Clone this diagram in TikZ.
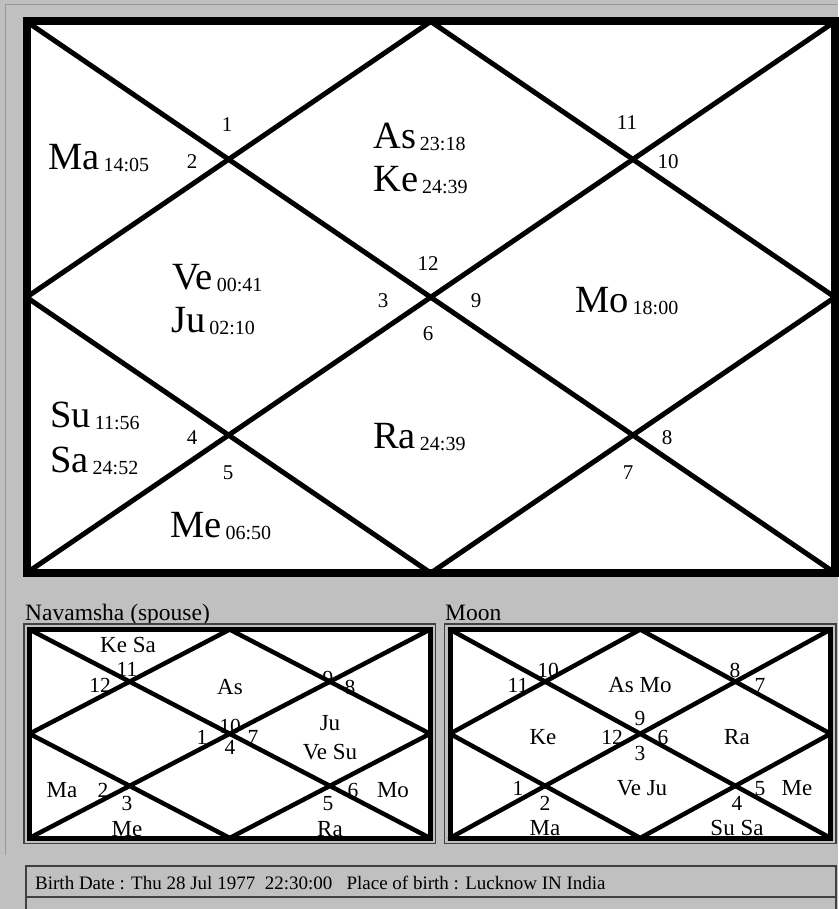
\documentclass[tikz,border=0pt]{standalone}
\usepackage{fontspec}
\setmainfont{Liberation Serif}
\definecolor{bgc}{HTML}{C0C0C0}
\definecolor{framec}{HTML}{404040}
\newcommand{\plsub}[2]{#1\hspace{4pt}\raisebox{-2pt}{\fontsize{20}{20}\selectfont #2}}
\begin{document}
\begin{tikzpicture}[x=1pt,y=-1pt,
  planet/.style={anchor=base west, inner sep=0pt, font=\fontsize{38.5}{38.5}\selectfont},
  hnum/.style={inner sep=0pt, text height=14pt, text depth=0pt, font=\fontsize{21}{21}\selectfont},
  stxt/.style={inner sep=0pt, text height=15pt, text depth=0pt, font=\fontsize{23}{23}\selectfont},
  snum/.style={inner sep=0pt, text height=14.5pt, text depth=0pt, font=\fontsize{21.5}{21.5}\selectfont},
  title/.style={anchor=base west, inner sep=0pt, font=\fontsize{23.5}{23.5}\selectfont},
  bigborder/.style={draw=black, line width=8pt},
  bigdiag/.style={draw=black, line width=5pt, line cap=round, line join=round},
  smallborder/.style={draw=black, line width=5pt},
  smalldiag/.style={draw=black, line width=4.5pt, line cap=round, line join=round},
  thinframe/.style={draw=framec, line width=1.2pt},
  tableline/.style={draw=framec, line width=2pt}]
\useasboundingbox (0,0) rectangle (838,909);
\fill[bgc] (0,0) rectangle (838,909);
\draw[draw=gray!80, line width=1pt] (5.5,855) -- (5.5,4.5) -- (838,4.5);

% ---------- main chart ----------
\fill[white] (26.5,21.5) rectangle (835,573);
\draw[bigdiag] (26.5,21.5) -- (835,573);
\draw[bigdiag] (835,21.5) -- (26.5,573);
\draw[bigdiag] (430.75,21.5) -- (835,297.25) -- (430.75,573) -- (26.5,297.25) -- cycle;
\draw[bigborder] (26.5,21.5) rectangle (835,573);

\node[planet] (ma) at (48,170) {\plsub{Ma}{14:05}};
\node[planet] (as) at (373,149) {\plsub{As}{23:18}};
\node[planet] (ke) at (373,192) {\plsub{Ke}{24:39}};
\node[planet] (ve) at (172,289) {\plsub{Ve}{00:41}};
\node[planet] (ju) at (171,332) {\plsub{Ju}{02:10}};
\node[planet] (mo) at (575,312) {\plsub{Mo}{18:00}};
\node[planet] (su) at (50,427) {\plsub{Su}{11:56}};
\node[planet] (sa) at (50,472) {\plsub{Sa}{24:52}};
\node[planet] (ra) at (373,448) {\plsub{Ra}{24:39}};
\node[planet] (me) at (170,537) {\plsub{Me}{06:50}};

\node[hnum] (h1) at (227,125) {1};
\node[hnum] (h2) at (192,162) {2};
\node[hnum] (h11) at (627,123) {11};
\node[hnum] (h10) at (668,162) {10};
\node[hnum] (h12) at (428,263) {12};
\node[hnum] (h3) at (383,300) {3};
\node[hnum] (h9) at (476,300) {9};
\node[hnum] (h6) at (428,333) {6};
\node[hnum] (h4) at (192,437) {4};
\node[hnum] (h5) at (228,472) {5};
\node[hnum] (h8) at (667,437) {8};
\node[hnum] (h7) at (628,472) {7};

% ---------- navamsha chart ----------
\node[title] (navt) at (25,620) {Navamsha (spouse)};
\draw[thinframe] (24,624) rectangle (435.5,843.5);
\fill[white] (29.5,629.5) rectangle (430,838);
\draw[smalldiag] (29.5,629.5) -- (430,838);
\draw[smalldiag] (430,629.5) -- (29.5,838);
\draw[smalldiag] (229.75,629.5) -- (430,733.75) -- (229.75,838) -- (29.5,733.75) -- cycle;
\draw[smallborder] (29.5,629.5) rectangle (430,838);

\node[stxt] (nkesa) at (128,645) {Ke Sa};
\node[snum] (n11) at (127,669) {11};
\node[snum] (n12) at (100,685) {12};
\node[stxt] (nas) at (230,687) {As};
\node[snum] (n9) at (328,678) {9};
\node[snum] (n8) at (350,687) {8};
\node[snum] (n10) at (230,726) {10};
\node[snum] (n1) at (202,737) {1};
\node[snum] (n7) at (253,737) {7};
\node[snum] (n4) at (230,747) {4};
\node[stxt] (nju) at (330,723) {Ju};
\node[stxt] (nvesu) at (330,752) {Ve Su};
\node[stxt] (nma) at (62,790) {Ma};
\node[snum] (n2) at (103,790) {2};
\node[snum] (n3) at (127,803) {3};
\node[stxt] (nme) at (127,829) {Me};
\node[snum] (n5) at (328,803) {5};
\node[snum] (n6) at (353,790) {6};
\node[stxt] (nmo) at (393,790) {Mo};
\node[stxt] (nra) at (330,829) {Ra};

% ---------- moon chart ----------
\node[title] (moont) at (445,620) {Moon};
\draw[thinframe] (444.5,624) rectangle (836,843.5);
\fill[white] (450,629.5) rectangle (830.5,838);
\draw[smalldiag] (450,629.5) -- (830.5,838);
\draw[smalldiag] (830.5,629.5) -- (450,838);
\draw[smalldiag] (640.25,629.5) -- (830.5,733.75) -- (640.25,838) -- (450,733.75) -- cycle;
\draw[smallborder] (450,629.5) rectangle (830.5,838);

\node[snum] (m10) at (548,670) {10};
\node[snum] (m11) at (518,685) {11};
\node[stxt] (masmo) at (640,685) {As Mo};
\node[snum] (m8) at (735,670) {8};
\node[snum] (m7) at (760,685) {7};
\node[stxt] (mke) at (543,737) {Ke};
\node[stxt] (mra) at (737,737) {Ra};
\node[snum] (m9) at (640,718) {9};
\node[snum] (m12) at (612,737) {12};
\node[snum] (m6) at (663,737) {6};
\node[snum] (m3) at (640,753) {3};
\node[snum] (m1) at (518,788) {1};
\node[snum] (m2) at (545,803) {2};
\node[stxt] (mveju) at (642,788) {Ve Ju};
\node[stxt] (mma) at (545,828) {Ma};
\node[snum] (m4) at (737,803) {4};
\node[snum] (m5) at (760,788) {5};
\node[stxt] (mme) at (797,788) {Me};
\node[stxt] (msusa) at (737,828) {Su Sa};

% ---------- birth data table ----------
\draw[tableline] (26,912) -- (26,866) -- (836,866) -- (836,912);
\draw[tableline] (26,897) -- (836,897);
\node[anchor=base west, inner sep=0pt, font=\fontsize{19}{19}\selectfont] (birth) at (35,889)
  {Birth Date : Thu 28 Jul 1977\ \ 22:30:00\ \ \ Place of birth : Lucknow IN India};
\end{tikzpicture}
\end{document}
